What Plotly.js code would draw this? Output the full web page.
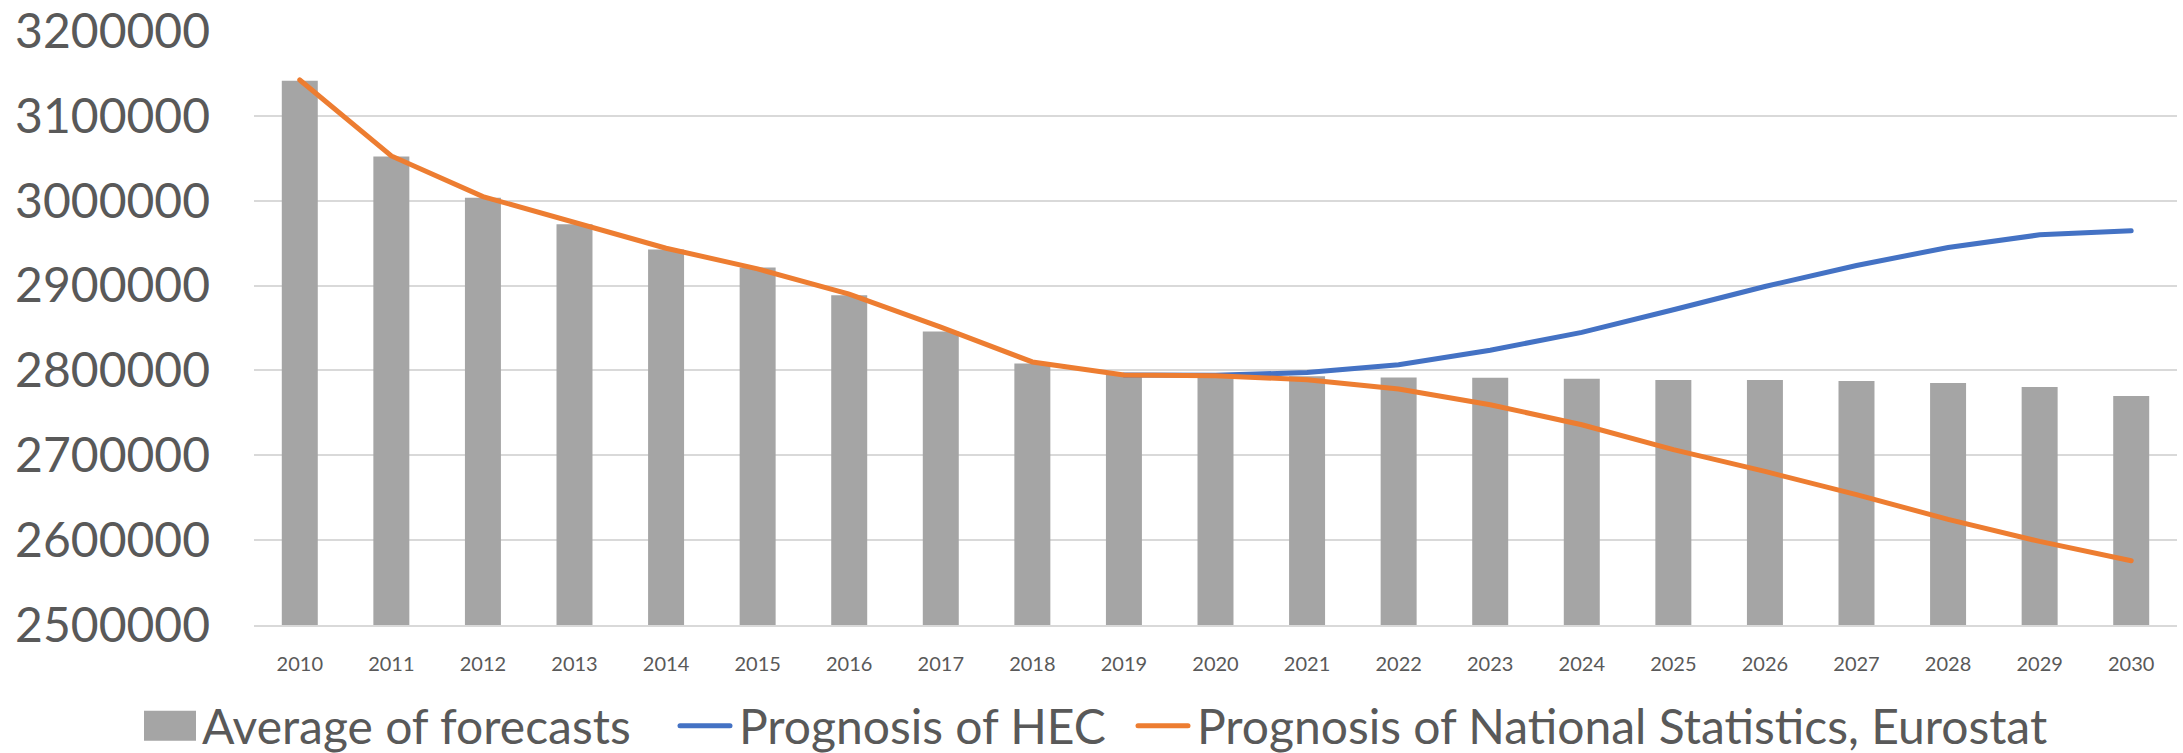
<!DOCTYPE html>
<html>
<head>
<meta charset="utf-8">
<script src="https://cdn.plot.ly/plotly-3.0.1.min.js"></script>
<style>
  html, body { margin: 0; padding: 0; background: #ffffff; }
  #chart { width: 2183px; height: 753px; }
  #chart .scatterlayer path.js-line, #chart .legendlines path { stroke-linecap: round; }
</style>
</head>
<body>
<div id="chart"></div>
<script>
const years = ["2010","2011","2012","2013","2014","2015","2016","2017","2018","2019","2020",
               "2021","2022","2023","2024","2025","2026","2027","2028","2029","2030"];

const averageOfForecasts = [3141500, 3052000, 3003600, 2972300, 2942600, 2921300, 2888500,
                            2846000, 2808200, 2795000, 2794000, 2793000, 2791600, 2791400,
                            2790200, 2788700, 2788700, 2787500, 2785200, 2780400, 2769800];

const hecYears = ["2019","2020","2021","2022","2023","2024","2025","2026","2027","2028","2029","2030"];
const prognosisHEC = [2794600, 2794200, 2797600, 2806700, 2823800, 2844800, 2871500, 2898900,
                      2923700, 2944900, 2959800, 2964500];

const prognosisNational = [3142300, 3052800, 3004800, 2974000, 2944000, 2919700, 2890000,
                           2851000, 2810000, 2794600, 2793800, 2789000, 2778100, 2759600,
                           2736000, 2706600, 2681000, 2653600, 2624500, 2598500, 2575700];

const seriesNames = ["Average of forecasts", "Prognosis of HEC", "Prognosis of National Statistics, Eurostat"];

const textColor = "#595959";
const fontFamily = "Lato, 'Open Sans', sans-serif";

const traces = [
  {
    type: "bar", x: years, y: averageOfForecasts, name: seriesNames[0],
    marker: { color: "#A5A5A5" }
  },
  {
    type: "scatter", mode: "lines", x: hecYears, y: prognosisHEC, name: seriesNames[1],
    line: { color: "#4472C4", width: 5 }
  },
  {
    type: "scatter", mode: "lines", x: years, y: prognosisNational, name: seriesNames[2],
    line: { color: "#ED7D31", width: 5 }
  }
];

const layout = {
  width: 2183, height: 753,
  margin: { l: 254, r: 6, t: 31, b: 128, pad: 0, autoexpand: false },
  paper_bgcolor: "#ffffff", plot_bgcolor: "#ffffff",
  font: { family: fontFamily, color: textColor },
  bargap: 0.607,
  showlegend: true,
  legend: {
    orientation: "h", x: 0.458, xanchor: "center", y: -0.17, yanchor: "middle",
    font: { family: fontFamily, size: 48, color: textColor },
    traceorder: "normal", itemwidth: 60, tracegroupgap: 0
  },
  xaxis: {
    type: "category", categoryorder: "array", categoryarray: years,
    showgrid: false, zeroline: false,
    showline: true, linecolor: "#D9D9D9", linewidth: 2,
    ticks: "", tickfont: { family: fontFamily, size: 20, color: textColor },
    ticklabelstandoff: 20, fixedrange: true
  },
  yaxis: {
    range: [2500000, 3200000], dtick: 100000, tick0: 2500000,
    showgrid: true, gridcolor: "#D9D9D9", gridwidth: 2,
    zeroline: false, showline: false, ticks: "",
    tickformat: "d",
    tickfont: { family: fontFamily, size: 48, color: textColor },
    ticklabelstandoff: 43, fixedrange: true
  }
};

// Legend symbol look (Excel style): wide swatch / long line, and entry start positions.
const legendSymbolLeft = [144, 677, 1135];
const swatchW = 52, swatchH = 30, lineLen = 56, symbolGap = 6;

function parseTranslate(tr) {
  const m = /translate\(\s*([-\d.e]+)[ ,]+([-\d.e]+)\s*\)/.exec(tr || "");
  return m ? [parseFloat(m[1]), parseFloat(m[2])] : [0, 0];
}

function styleLegend() {
  const legend = document.querySelector("#chart .legend");
  if (!legend) return;
  legend.querySelectorAll("[clip-path]").forEach(function (el) { el.removeAttribute("clip-path"); });
  const items = Array.from(legend.querySelectorAll(".traces"));
  items.forEach(function (item, i) {
    const text = item.querySelector("text.legendtext");
    if (!text) return;
    const tx = text.getBoundingClientRect().left;
    let symLeft = null;
    if (i === 0) {
      const bar = item.querySelector(".legendpoints path") || item.querySelector("path.legendbar");
      if (bar) {
        const bb = bar.getBBox();
        const sr = bar.getBoundingClientRect();
        const offX = sr.left - bb.x;
        const cyLocal = bb.y + bb.height / 2;
        const right = tx - symbolGap - offX;
        const left = right - swatchW;
        bar.setAttribute("d", "M" + left + "," + (cyLocal - swatchH / 2) + "H" + right +
                         "V" + (cyLocal + swatchH / 2) + "H" + left + "Z");
        bar.style.strokeWidth = "0";
        symLeft = tx - symbolGap - swatchW;
      }
    } else {
      const line = item.querySelector(".legendlines path");
      if (line) {
        const bb = line.getBBox();
        const sr = line.getBoundingClientRect();
        const offX = sr.left - bb.x;
        const right = tx - symbolGap - 3 - offX;
        line.setAttribute("d", "M" + (right - lineLen + 6) + ",0H" + right);
        symLeft = tx - symbolGap - lineLen;
      }
    }
    if (symLeft !== null && legendSymbolLeft[i] !== undefined) {
      const delta = legendSymbolLeft[i] - symLeft;
      const t = parseTranslate(item.getAttribute("transform"));
      item.setAttribute("transform", "translate(" + (t[0] + delta) + "," + t[1] + ")");
    }
  });
}

Plotly.newPlot("chart", traces, layout, { staticPlot: true, displayModeBar: false })
  .then(styleLegend);
</script>
</body>
</html>
